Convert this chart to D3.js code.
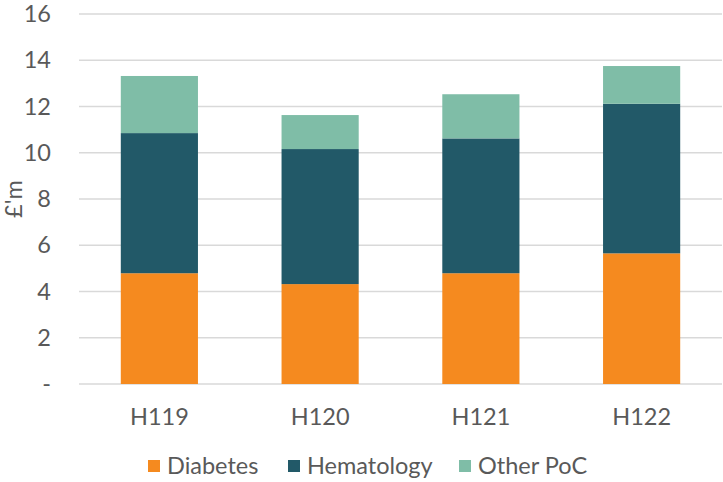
<!DOCTYPE html>
<html>
<head>
<meta charset="utf-8">
<script src="https://cdn.jsdelivr.net/npm/d3@7"></script>
<style>
  html, body { margin: 0; padding: 0; background: #fff; }
  svg { display: block; font-family: Lato, "Open Sans", sans-serif; }
</style>
</head>
<body>
<svg id="chart" width="723" height="482"></svg>
<script>
// Cost by half-year, £ millions
const categories = ["H119", "H120", "H121", "H122"];
const seriesNames = ["Diabetes", "Hematology", "Other PoC"];
const diabetes   = [4.79, 4.32, 4.79, 5.65];
const hematology = [6.06, 5.84, 5.83, 6.47];
const otherPoC   = [2.47, 1.47, 1.91, 1.63];
const yTicks = [0, 2, 4, 6, 8, 10, 12, 14, 16];
const colors = ["#F58A1F", "#225968", "#7FBDA7"];

const FS = "23.5px";
const svg = d3.select("#chart");
const margin = { top: 14, right: 1, bottom: 98, left: 79 };
const W = 723, H = 482;

const rows = categories.map((c, i) => ({
  cat: c, "Diabetes": diabetes[i], "Hematology": hematology[i], "Other PoC": otherPoC[i]
}));
const stacked = d3.stack().keys(seriesNames)(rows);

const x = d3.scaleBand().domain(categories)
  .range([margin.left, W - margin.right])
  .paddingInner(0.52).paddingOuter(0.26);
const y = d3.scaleLinear().domain([0, 16]).range([H - margin.bottom, margin.top]);

// gridlines
svg.append("g").selectAll("line").data(yTicks).join("line")
  .attr("x1", margin.left).attr("x2", W - margin.right)
  .attr("y1", d => y(d)).attr("y2", d => y(d))
  .attr("stroke", "#d9d9d9").attr("stroke-width", 1.5);

// y axis labels
const yAxis = d3.axisLeft(y).tickValues(yTicks)
  .tickFormat(d => d === 0 ? "-" : d).tickSize(0).tickPadding(0);
const gy = svg.append("g").attr("transform", `translate(${51},0)`).call(yAxis);
gy.select(".domain").remove();
gy.selectAll("text").attr("fill", "#595959").style("font-size", FS)
  .style("font-family", "Lato, sans-serif");

// y title
svg.append("text")
  .attr("transform", `translate(22,${(y(16) + y(0)) / 2}) rotate(-90)`)
  .attr("text-anchor", "middle").attr("fill", "#595959")
  .style("font-size", FS).text("£'m");

// bars
svg.append("g").selectAll("g").data(stacked).join("g")
  .attr("fill", (d, i) => colors[i])
  .selectAll("rect").data(d => d).join("rect")
  .attr("x", d => x(d.data.cat))
  .attr("width", x.bandwidth())
  .attr("y", d => y(d[1]))
  .attr("height", d => y(d[0]) - y(d[1]));

// x axis labels
const xAxis = d3.axisBottom(x).tickSize(0).tickPadding(0);
const gx = svg.append("g").attr("transform", `translate(0,${y(0) + 24})`).call(xAxis);
gx.select(".domain").remove();
gx.selectAll("text").attr("fill", "#595959").style("font-size", FS)
  .style("font-family", "Lato, sans-serif");

// legend
const legendX = [148, 288, 459];
const lg = svg.append("g").selectAll("g").data(seriesNames).join("g")
  .attr("transform", (d, i) => `translate(${legendX[i]},466)`);
lg.append("rect").attr("x", 0).attr("y", -6).attr("width", 12).attr("height", 12)
  .attr("fill", (d, i) => colors[i]);
lg.append("text").attr("x", 19).attr("dy", "0.35em")
  .attr("fill", "#595959").style("font-size", FS).text(d => d);
</script>
</body>
</html>
